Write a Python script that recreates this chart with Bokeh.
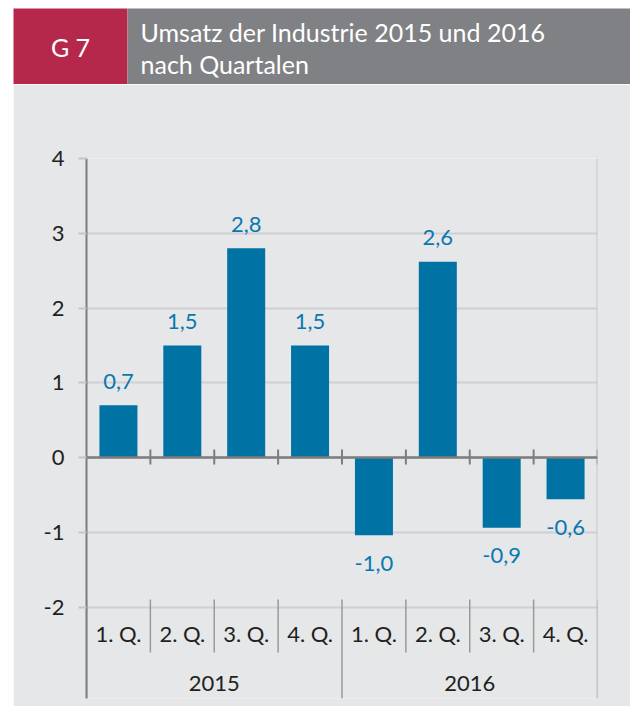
from bokeh.plotting import figure
from bokeh.models import Range1d, FixedTicker, Span, Label, ColumnDataSource
from bokeh.core.properties import value
from bokeh.embed import file_html
from bokeh.resources import INLINE

# ---- data ----
quarters = ["1. Q.", "2. Q.", "3. Q.", "4. Q.", "1. Q.", "2. Q.", "3. Q.", "4. Q."]
years = ["2015", "2016"]
values = [0.7, 1.5, 2.8, 1.5, -1.04, 2.62, -0.94, -0.56]
value_labels = ["0,7", "1,5", "2,8", "1,5", "-1,0", "2,6", "-0,9", "-0,6"]
y_ticks = [-2, -1, 0, 1, 2, 3, 4]

FONT = "Lato"
DARK = "#231f20"
BLUE_BAR = "#0072a3"
BLUE_TXT = "#0a78b0"
BG = "#e6e7e8"
GRID = "#cfd0d2"
AXIS = "#7d7d7d"
SEP = "#9a9a9a"

W = 630
HH = 84          # header height
H = 706 - HH     # chart height
INSET = 13       # white strip on the left

# ---- header figure ----
hdr = figure(width=W, height=HH, x_range=Range1d(0, W), y_range=Range1d(0, HH),
             toolbar_location=None, output_backend="svg", min_border=0,
             x_axis_location=None, y_axis_location=None)
hdr.outline_line_color = None
hdr.grid.visible = False
hdr.background_fill_color = "white"
hdr.border_fill_color = "white"
hdr.quad(left=[INSET], right=[127], bottom=[0], top=[76], color="#b5284b", line_color=None)
hdr.quad(left=[127], right=[W], bottom=[0], top=[76], color="#808184", line_color=None)
hdr.text(x=[70], y=[38], text=["G 7"], text_align="center", text_baseline="middle",
         text_color="white", text_font=value(FONT), text_font_size="25px")
hdr.text(x=[140, 140], y=[53, 21], text=["Umsatz der Industrie 2015 und 2016", "nach Quartalen"],
         text_align="left", text_baseline="middle",
         text_color="white", text_font=value(FONT), text_font_size="25px")

# ---- chart figure ----
n = len(values)
ymin, ymax = -3.224, 4.0

p = figure(width=W - INSET, height=H, x_range=Range1d(0, n), y_range=Range1d(ymin, ymax),
           toolbar_location=None, output_backend="svg", x_axis_location=None,
           min_border_left=86 - INSET, min_border_right=33, min_border_top=158 - HH, min_border_bottom=8,
           margin=(0, 0, 0, INSET))
p.background_fill_color = BG
p.border_fill_color = BG
p.outline_line_color = None
p.xgrid.visible = False
p.ygrid.ticker = FixedTicker(ticks=y_ticks)
p.ygrid.grid_line_color = GRID
p.ygrid.grid_line_width = 2

ya = p.yaxis[0]
ya.ticker = FixedTicker(ticks=y_ticks)
ya.major_label_overrides = {-1: "-1", -2: "-2"}
ya.axis_line_color = AXIS
ya.axis_line_width = 2
ya.major_tick_line_color = "#c4c5c7"
ya.major_tick_line_width = 2
ya.major_tick_out = 8
ya.major_tick_in = 0
ya.minor_tick_line_color = None
ya.major_label_standoff = 14
ya.major_label_text_font = FONT
ya.major_label_text_font_size = "22px"
ya.major_label_text_color = DARK

xs = [i + 0.5 for i in range(n)]
offs = [-24 if v >= 0 else 28 for v in values]
src = ColumnDataSource(dict(x=xs, top=values, lab=value_labels, off=offs, q=quarters))

p.vbar(x="x", top="top", bottom=0, width=0.595, source=src, color=BLUE_BAR, line_color=None)
p.text(x="x", y="top", text="lab", y_offset="off", source=src, text_align="center",
       text_baseline="middle", text_color=BLUE_TXT, text_font=value(FONT), text_font_size="22px")

# zero line and ticks on it
p.add_layout(Span(location=0, dimension="width", line_color=AXIS, line_width=2.5))
bx = list(range(1, n + 1))
p.segment(x0=bx, x1=bx, y0=[0.107] * len(bx), y1=[-0.094] * len(bx), line_color=AXIS, line_width=2)

# right frame line
p.segment(x0=[n], x1=[n], y0=[ymax], y1=[-1.9], line_color="#c4c5c7", line_width=2)

# category axis (quarters / years)
qb = [1, 2, 3, 5, 6, 7]
p.segment(x0=qb, x1=qb, y0=[-1.9] * len(qb), y1=[-2.61] * len(qb), line_color=SEP, line_width=1.5)
yb = [0, 4, 8]
p.segment(x0=yb, x1=yb, y0=[-1.9] * len(yb), y1=[ymin] * len(yb), line_color=SEP, line_width=1.5)
p.text(x="x", y=-2.354, text="q", source=src, text_align="center", text_baseline="middle",
       text_color=DARK, text_font=value(FONT), text_font_size="22px")
p.text(x=[2, 6], y=[-3.017, -3.017], text=years, text_align="center", text_baseline="middle",
       text_color=DARK, text_font=value(FONT), text_font_size="22px")

p.add_layout(Label(x=4.1, y=4.495, text="Veränderung zum Vorjahresquartal in %",
                   text_align="center", text_baseline="middle", text_color=DARK,
                   text_font=FONT, text_font_size="24.5px"))

open("out.html", "w").write(file_html([hdr, p], INLINE))
